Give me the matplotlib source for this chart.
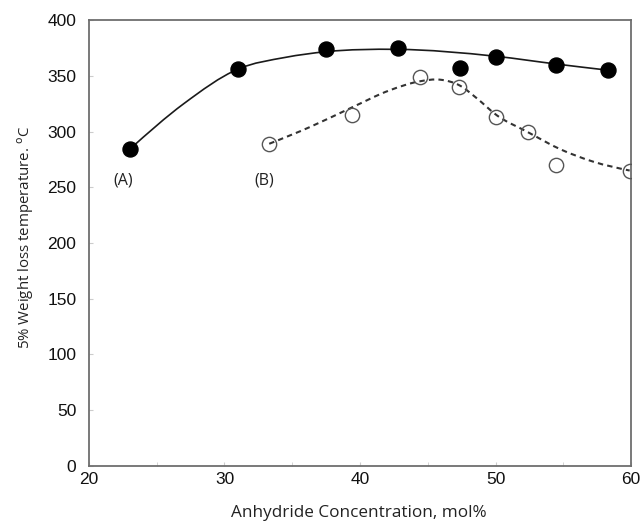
import numpy as np
import matplotlib
matplotlib.use("Agg")
import matplotlib.pyplot as plt
from matplotlib.path import Path
from matplotlib.patches import PathPatch

# Anhydride concentration (mol%) and 5% weight loss temperature (degC)
conc_a = [23.0, 31.0, 37.5, 42.8, 47.4, 50.0, 54.5, 58.3]
temp_a = [284, 356, 374, 375, 357, 367, 360, 355]

conc_b = [33.3, 39.4, 44.4, 47.3, 50.0, 52.4, 54.5, 59.9]
temp_b = [289, 315, 349, 340, 313, 300, 270, 265]

# knots of the smoothed trend lines
trend_a_x = [23.0, 27.0, 31.0, 34.5, 37.5, 42.7, 50.0, 54.5, 58.3]
trend_a_y = [284, 325, 356, 366.5, 371.6, 373.7, 367.5, 360.5, 355]

trend_b_x = [33.3, 36.3, 39.3, 42.2, 44.4, 45.9, 47.4, 48.6, 50.1, 52.3, 54.8, 57.2, 59.9]
trend_b_y = [289, 304, 321, 337, 345, 346.5, 341, 330, 314.5, 300, 284, 273, 265]

x_ticks = [20, 30, 40, 50, 60]
y_ticks = [0, 50, 100, 150, 200, 250, 300, 350, 400]


def smooth_path(xs, ys):
    """Cubic Hermite curve through the knots (finite-difference slopes) as Bezier segments."""
    x = np.asarray(xs, float)
    y = np.asarray(ys, float)
    h = np.diff(x)
    d = np.diff(y) / h
    m = np.empty_like(x)
    m[1:-1] = (h[:-1] * d[1:] + h[1:] * d[:-1]) / (h[:-1] + h[1:])
    m[0] = (3 * d[0] - m[1]) / 2
    m[-1] = (3 * d[-1] - m[-2]) / 2
    verts = [(x[0], y[0])]
    codes = [Path.MOVETO]
    for i in range(len(h)):
        t = h[i] / 3
        verts += [(x[i] + t, y[i] + m[i] * t),
                  (x[i + 1] - t, y[i + 1] - m[i + 1] * t),
                  (x[i + 1], y[i + 1])]
        codes += [Path.CURVE4] * 3
    return Path(verts, codes)


fig = plt.figure(figsize=(6.42, 5.24), dpi=100)
ax = fig.add_axes([0.1386, 0.1107, 0.8443, 0.8511])

ax.add_patch(PathPatch(smooth_path(trend_a_x, trend_a_y), fill=False,
                       edgecolor="#1a1a1a", lw=1.2, zorder=2))
ax.add_patch(PathPatch(smooth_path(trend_b_x, trend_b_y), fill=False,
                       edgecolor="#333333", lw=1.5, ls=(0, (2.6, 2.0)), zorder=2))

ax.plot(conc_a, temp_a, "o", ms=10.8, mfc="black", mec="black", zorder=3)
ax.plot(conc_b, temp_b, "o", ms=10.3, mfc="none", mec="#555555", mew=1.0, zorder=3)

ax.text(22.55, 256, "(A)", ha="center", va="center", fontsize=11.5,
        family="Open Sans", color="#222222")
ax.text(32.9, 256, "(B)", ha="center", va="center", fontsize=11.5,
        family="Open Sans", color="#222222")

ax.set_xlim(20, 60)
ax.set_ylim(0, 400)
ax.set_xticks(x_ticks)
ax.set_xticks(np.arange(20, 61, 5), minor=True)
ax.set_yticks(y_ticks)
ax.tick_params(which="both", direction="in", length=3, color="#cccccc",
               labelsize=12.5)
ax.tick_params(axis="y", pad=9)
ax.tick_params(axis="x", pad=4)
for lbl in ax.get_xticklabels() + ax.get_yticklabels():
    lbl.set_family("Liberation Sans")
    lbl.set_color("#111111")

for s in ax.spines.values():
    s.set_color("#6e6e6e")
    s.set_linewidth(1.3)

ax.set_xlabel("Anhydride Concentration, mol%", family="Open Sans",
              fontsize=12.3, color="#222222")
ax.set_ylabel("5% Weight loss temperature. $^{\\mathrm{o}}$C", family="Open Sans",
              fontsize=10.8, color="#222222")
ax.xaxis.set_label_coords(0.497, -0.088)
ax.yaxis.set_label_coords(-0.098, 0.512)

fig.savefig("out.png", dpi=100)
